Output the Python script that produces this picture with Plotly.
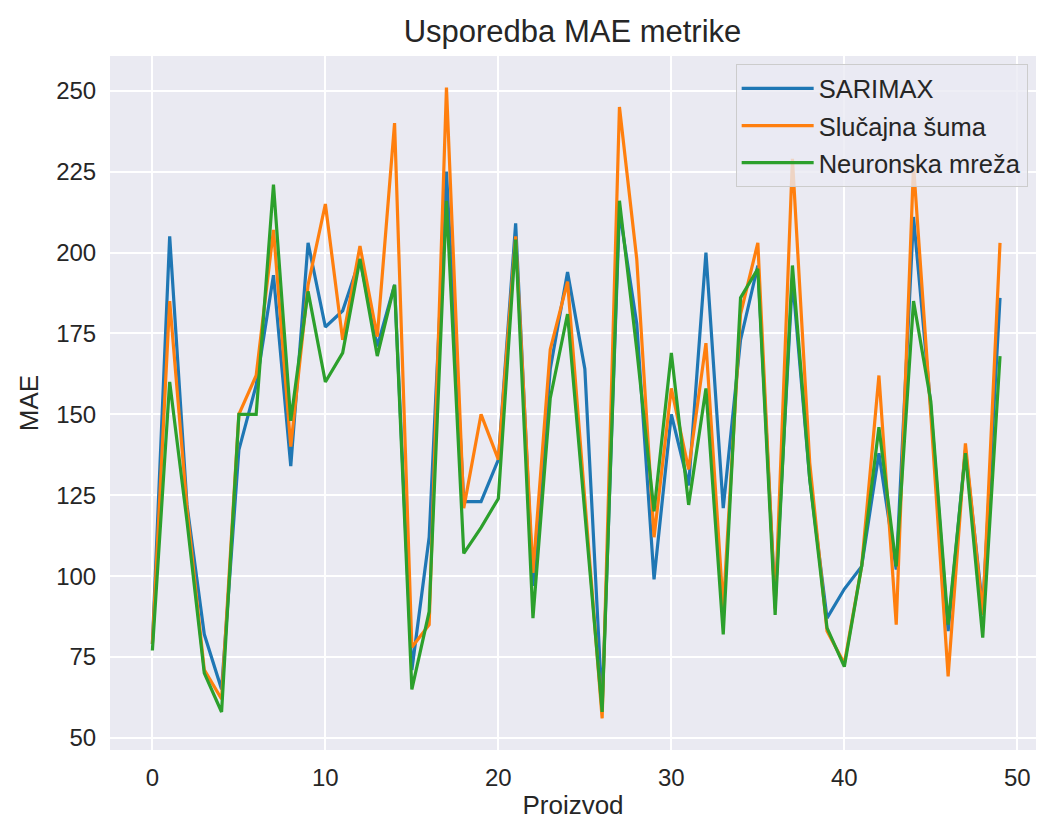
import numpy as np
import plotly.graph_objects as go

# proizvodi 0..49
proizvod = list(range(50))

sarimax = [79, 205, 122, 82, 65, 139, 159, 193, 134, 203,
           177, 182, 198, 171, 190, 71, 112, 225, 123, 123,
           136, 209, 97, 164, 194, 164, 60, 213, 178, 99,
           150, 128, 200, 121, 173, 196, 92, 192, 130, 87,
           96, 103, 138, 102, 211, 152, 83, 139, 90, 186]

slucajna_suma = [79, 185, 121, 71, 62, 150, 162, 207, 140, 190,
                 215, 173, 202, 174, 240, 78, 85, 251, 121, 150,
                 136, 205, 101, 170, 191, 125, 56, 245, 198, 112,
                 158, 133, 172, 90, 181, 203, 90, 229, 135, 83,
                 73, 103, 162, 85, 227, 150, 69, 141, 88, 203]

neuronska = [77, 160, 117, 70, 58, 150, 150, 221, 148, 188,
             160, 169, 198, 168, 190, 65, 89, 216, 107, 115,
             124, 204, 87, 155, 181, 119, 58, 216, 170, 120,
             169, 122, 158, 82, 186, 195, 88, 196, 130, 84,
             72, 103, 146, 103, 185, 154, 85, 138, 81, 168]

x_ticks = [0, 10, 20, 30, 40, 50]
y_ticks = [50, 75, 100, 125, 150, 175, 200, 225, 250]

FONT = "Liberation Sans, Arial, sans-serif"
TXT = "#262626"

fig = go.Figure()
fig.add_trace(go.Scatter(x=proizvod, y=sarimax, mode='lines', name='SARIMAX',
                         legendgroup='a', line=dict(color='#1f77b4', width=3.2)))
fig.add_trace(go.Scatter(x=proizvod, y=slucajna_suma, mode='lines', name='Slučajna šuma',
                         legendgroup='b', line=dict(color='#ff7f0e', width=3.2)))
fig.add_trace(go.Scatter(x=proizvod, y=neuronska, mode='lines', name='Neuronska mreža',
                         legendgroup='c', line=dict(color='#2ca02c', width=3.2)))

fig.update_layout(
    width=1039, height=824,
    margin=dict(l=110, r=3, t=56, b=74),
    paper_bgcolor='white',
    plot_bgcolor='#EAEAF2',
    font=dict(family=FONT, color=TXT, size=24),
    title=dict(text='Usporedba MAE metrike', x=0.551, xanchor='center',
               y=0.962, yref='container', yanchor='middle',
               font=dict(size=31, color=TXT)),
    showlegend=True,
    legend=dict(x=0.991, y=0.988, xanchor='right', yanchor='top',
                bgcolor='rgba(234,234,242,0.8)', bordercolor='#cccccc',
                borderwidth=1, font=dict(size=25.5, color=TXT),
                itemwidth=72, tracegroupgap=1),
)

fig.update_xaxes(range=[-2.45, 51.08], tickvals=x_ticks,
                 showgrid=True, gridcolor='white', gridwidth=1.6,
                 zeroline=False, showline=False,
                 ticks='outside', ticklen=6, tickcolor='rgba(0,0,0,0)',
                 title=dict(text='Proizvod', font=dict(size=26), standoff=6))
fig.update_yaxes(range=[46.25, 260.75], tickvals=y_ticks,
                 showgrid=True, gridcolor='white', gridwidth=1.6,
                 zeroline=False, showline=False,
                 ticks='outside', ticklen=8, tickcolor='rgba(0,0,0,0)',
                 title=dict(text='MAE', font=dict(size=26), standoff=10))

# bez margine stranice i bez alatne trake
fig.write_html("out.html", config={'displayModeBar': False},
               post_script="document.body.style.margin='0';")
